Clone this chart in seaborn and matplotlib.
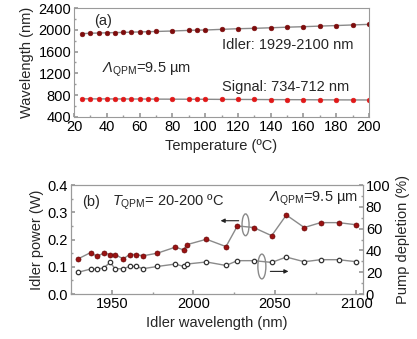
import seaborn as sns
import matplotlib.pyplot as plt
from matplotlib.patches import Ellipse
from matplotlib.ticker import MultipleLocator

# (a) tuning vs temperature
temps = [25, 30, 35, 40, 45, 50, 55, 60, 65, 70, 80, 90, 95, 100,
         110, 120, 130, 140, 150, 160, 170, 180, 190, 200]
idler_nm = [1929, 1937, 1941, 1945, 1949, 1952, 1957, 1961, 1965, 1969, 1978, 1989,
            1994, 1996, 2008, 2020, 2027, 2037, 2048, 2057, 2068, 2078, 2089, 2100]
signal_nm = [734, 733, 732, 732, 731, 731, 730, 730, 729, 728, 727, 726,
             725, 725, 723, 722, 721, 719, 718, 717, 715, 714, 713, 712]

# (b) idler power and pump depletion vs idler wavelength
idler_power_w = [0.128, 0.152, 0.138, 0.150, 0.145, 0.145, 0.129, 0.145, 0.145, 0.140,
                 0.150, 0.172, 0.162, 0.181, 0.201, 0.174, 0.250, 0.244, 0.214, 0.290,
                 0.244, 0.262, 0.262, 0.254]
pump_depletion = [19.8, 22.9, 22.9, 23.9, 29.0, 23.2, 23.2, 25.3, 25.3, 23.2, 25.3, 27.5,
                  25.3, 27.5, 29.4, 26.2, 30.6, 30.6, 29.0, 33.9, 29.6, 31.5, 31.5, 29.6]

sns.set_theme(style='ticks')
plt.rcParams['font.family'] = ['Liberation Sans', 'DejaVu Sans']
plt.rcParams['mathtext.fontset'] = 'custom'
plt.rcParams['mathtext.rm'] = 'Liberation Sans'
plt.rcParams['mathtext.it'] = 'Liberation Sans:italic'
# italic capital Greek: 'it' forces Greek capitals upright, so use sf slot
plt.rcParams['mathtext.sf'] = 'Liberation Sans:italic'

spine_col = '#9a9a9a'
line_col = '#8a8a8a'
dark_red = '#7d0c0c'
red = '#e01818'
fs = 10.5

fig = plt.figure(figsize=(4.17, 3.39), dpi=100)
ax1 = fig.add_axes([0.1775, 0.6549, 0.7074, 0.3215])
ax2 = fig.add_axes([0.1703, 0.1327, 0.7002, 0.3215])
ax3 = ax2.twinx()

# --- panel (a)
sns.lineplot(x=temps, y=idler_nm, ax=ax1, estimator=None, color=line_col, lw=1,
             marker='o', markersize=3.4, markerfacecolor=dark_red, markeredgecolor=dark_red,
             markeredgewidth=0.4)
sns.lineplot(x=temps, y=signal_nm, ax=ax1, estimator=None, color=line_col, lw=1,
             marker='o', markersize=3.4, markerfacecolor=red, markeredgecolor=red,
             markeredgewidth=0.4)
ax1.set_xlim(20, 200)
ax1.set_ylim(400, 2400)
ax1.xaxis.set_major_locator(MultipleLocator(20))
ax1.xaxis.set_minor_locator(MultipleLocator(10))
ax1.yaxis.set_major_locator(MultipleLocator(400))
ax1.yaxis.set_minor_locator(MultipleLocator(200))
ax1.set_xlabel('Temperature (ºC)', fontsize=fs, labelpad=4)
ax1.set_ylabel('Wavelength (nm)', fontsize=fs, labelpad=3)
ax1.text(32, 2170, '(a)', fontsize=fs, va='center')
ax1.text(37, 1262, r'$\mathsf{\Lambda}_{\mathrm{QPM}}$=9.5 µm', fontsize=fs, va='center')
ax1.text(110, 1721, 'Idler: 1929-2100 nm', fontsize=fs, va='center')
ax1.text(110, 945, 'Signal: 734-712 nm', fontsize=fs, va='center')

# --- panel (b)
sns.lineplot(x=idler_nm, y=idler_power_w, ax=ax2, estimator=None, color=line_col, lw=1,
             marker='o', markersize=3.6, markerfacecolor='#9a1212', markeredgecolor='#6a0808',
             markeredgewidth=0.5)
sns.lineplot(x=idler_nm, y=pump_depletion, ax=ax3, estimator=None, color=line_col, lw=1,
             marker='o', markersize=3.2, markerfacecolor='white', markeredgecolor='#333333',
             markeredgewidth=0.9)
ax2.set_xlim(1925, 2104)
ax2.set_ylim(0, 0.4)
ax3.set_ylim(0, 100)
ax2.xaxis.set_major_locator(MultipleLocator(50))
ax2.xaxis.set_minor_locator(MultipleLocator(25))
ax2.yaxis.set_major_locator(MultipleLocator(0.1))
ax2.yaxis.set_minor_locator(MultipleLocator(0.05))
ax3.yaxis.set_major_locator(MultipleLocator(20))
ax3.yaxis.set_minor_locator(MultipleLocator(10))
ax2.set_xlabel('Idler wavelength (nm)', fontsize=fs, labelpad=4)
ax2.set_ylabel('Idler power (W)', fontsize=fs, labelpad=3)
ax3.set_ylabel('Pump depletion (%)', fontsize=fs, labelpad=4)

ax2.text(1932, 0.339, '(b)', fontsize=fs, va='center')
ax2.text(1950, 0.337, r'$\mathit{T}_{\mathrm{QPM}}$= 20-200 ºC', fontsize=fs, va='center')
ax2.text(2101, 0.351, r'$\mathsf{\Lambda}_{\mathrm{QPM}}$=9.5 µm', fontsize=fs, va='center', ha='right')

ax2.add_patch(Ellipse((2032, 0.254), 4.3, 0.080, fill=False, ec=line_col, lw=1))
ax2.add_patch(Ellipse((2042, 0.101), 4.9, 0.091, fill=False, ec=line_col, lw=1))
ax2.annotate('', xy=(2015, 0.269), xytext=(2029.5, 0.269),
             arrowprops=dict(arrowstyle='-|>', color='#222222', lw=0.8, mutation_scale=6))
ax2.annotate('', xy=(2060, 0.083), xytext=(2045.5, 0.083),
             arrowprops=dict(arrowstyle='-|>', color='#222222', lw=0.8, mutation_scale=6))

for ax in (ax1, ax2, ax3):
    for sp in ax.spines.values():
        sp.set_color(spine_col)
        sp.set_linewidth(0.8)
        sp.set_visible(True)
    ax.tick_params(which='both', direction='in', color=spine_col, labelsize=fs,
                   labelcolor='black', pad=2)
    ax.tick_params(which='major', length=3)
    ax.tick_params(which='minor', length=1.5)
ax2.tick_params(axis='y', which='both', right=False)
ax3.tick_params(axis='y', which='both', left=False)

plt.savefig('out.png', dpi=100)
plt.close()
